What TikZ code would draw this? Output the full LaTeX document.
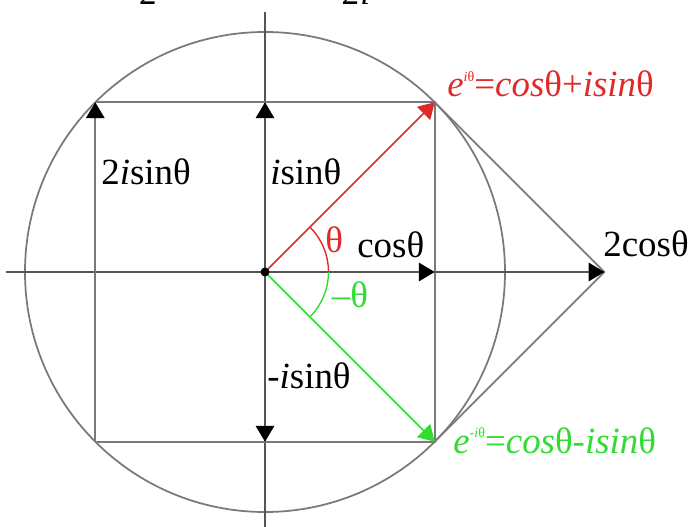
\documentclass[tikz,border=0pt]{standalone}
\usepackage{fontspec}
\setmainfont{Liberation Serif}
\usepackage{xcolor}
\usepackage{tikz}
\usetikzlibrary{arrows.meta,calc}
\definecolor{LineGray}{HTML}{7A7A7A}
\definecolor{AxisGray}{HTML}{555555}
\definecolor{EulerRed}{HTML}{E02A2A}
\definecolor{EulerGreen}{HTML}{30DC30}
\tikzset{
  % thin construction lines
  guide/.style={LineGray,line width=1pt},
  axis/.style={AxisGray,line width=1pt},
  % vectors
  vec/.style={-{Triangle[length=9pt,width=10.5pt]},line width=1pt},
  vecR/.style={vec,EulerRed},
  vecG/.style={vec,EulerGreen},
  vecK/.style={-{Triangle[length=9pt,width=10.5pt,color=black]},line width=1pt,AxisGray},
  % labels
  lbl/.style={inner sep=0pt,anchor=base west,font=\fontsize{21}{24}\selectfont},
  lblR/.style={lbl,text=EulerRed},
  lblG/.style={lbl,text=EulerGreen}
}
\begin{document}
\begin{tikzpicture}[x=1cm,y=1cm]
  \useasboundingbox (-5.3,-5.1) rectangle (8.56,5.44);
  % points on the unit circle (radius 4.8)
  \coordinate (O)   at (0,0);
  \coordinate (P)   at (45:4.8);
  \coordinate (Q)   at (-45:4.8);
  \coordinate (C)   at ($(O)!(P)!(4.8,0)$);
  \coordinate (C2)  at ($2*(C)$);
  \coordinate (S)   at ($(O)!(P)!(0,4.8)$);
  \coordinate (Sm)  at ($(O)!(Q)!(0,-4.8)$);
  \coordinate (L)   at ($(S)-(C)$);
  \coordinate (Lm)  at ($(Sm)-(C)$);
  \coordinate (xW)  at (-5.18,0);
  \coordinate (yN)  at (0,5.2);
  \coordinate (yS)  at (0,-5.2);

  \draw[guide] (O) circle (4.8);
  \draw[axis] (xW) -- (C2);
  \draw[axis] (yN) -- (yS);
  \draw[guide] (L) -- (P) -- (Q) -- (Lm);
  \draw[guide] (P) -- (C2) -- (Q);

  \draw[vecK,LineGray] (Lm) -- (L);
  \draw[vecK] (O) -- (S);
  \draw[vecK] (O) -- (Sm);
  \draw[vecK] (O) -- (C);
  \draw[vecK] (C) -- (C2);
  \draw[vecR] (O) -- (P);
  \draw[vecG] (O) -- (Q);
  \draw[EulerRed,line width=0.8pt] (1.27,0) arc (0:45:1.27);
  \draw[EulerGreen,line width=0.8pt] (1.27,0) arc (0:-45:1.27);
  \fill (O) circle (0.09);

  % labels
  \node[lbl] (l2s)  at (-3.28,1.74) {2\textit{i}sinθ};
  \node[lbl] (ls)   at (0.1,1.74) {\textit{i}sinθ};
  \node[lbl] (lms)  at (0.04,-2.32) {-\textit{i}sinθ};
  \node[lbl] (lc)   at (1.84,0.28) {cosθ};
  \node[lbl] (l2c)  at (6.76,0.3) {2cosθ};
  \node[lblR] (lth) at (1.2,0.38) {θ};
  \node[lblG] (lmth) at (1.33,-0.72) {–θ};
  \node[lblR] (lP)  at (3.64,3.5) {\textit{e}\raisebox{0.9ex}{\fontsize{8}{8}\selectfont\textit{i}θ}=\textit{cos}θ+\textit{isin}θ};
  \node[lblG] (lQ)  at (3.76,-3.62) {\textit{e}\raisebox{0.9ex}{\fontsize{8}{8}\selectfont-\textit{i}θ}=\textit{cos}θ-\textit{isin}θ};
  % denominators cut off by the top edge
  \node[lbl,font=\fontsize{20}{24}\selectfont\itshape] (d1) at (-2.5,5.34) {2};
  \node[lbl,font=\fontsize{20}{24}\selectfont\itshape] (d2) at (1.55,5.34) {2i};
\end{tikzpicture}
\end{document}
